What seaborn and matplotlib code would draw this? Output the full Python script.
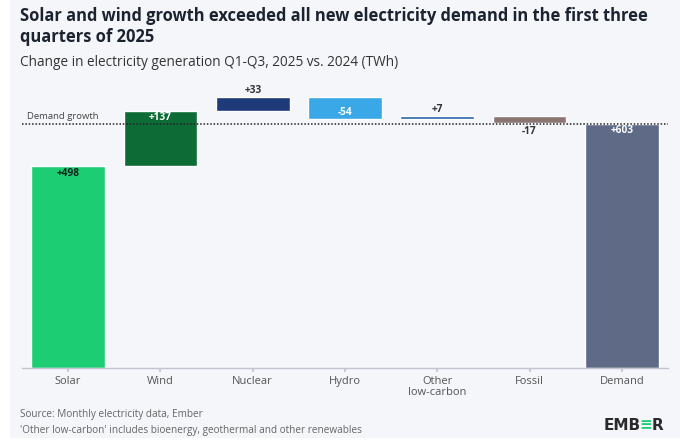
import numpy as np
import pandas as pd
import matplotlib.pyplot as plt
import seaborn as sns
from matplotlib.patches import Rectangle

# Chart data
categories = ["Solar", "Wind", "Nuclear", "Hydro", "Other\nlow-carbon", "Fossil", "Demand"]
changes = [498, 137, 33, -54, 7, -17, 603]
demand_growth = 603
colors = ["#1dcd73", "#0d6b36", "#1f3a78", "#3aa7e6", "#2460a8", "#8a7573", "#5e6a86"]
label_colors = ["#10231a", "white", "#333333", "white", "#333333", "#333333", "white"]

# Waterfall: supply bars stack, demand bar starts at zero
ends = np.cumsum(changes[:-1])
starts = ends - np.array(changes[:-1])
lows = list(np.minimum(starts, ends)) + [0]
highs = list(np.maximum(starts, ends)) + [changes[-1]]

df = pd.DataFrame({"category": categories, "change": changes,
                   "low": lows, "high": highs})
df["height"] = df["high"] - df["low"]

sns.set_theme(style="white")
plt.rcParams["font.family"] = ["Open Sans", "DejaVu Sans"]

bg = "#f5f6fa"
fig = plt.figure(figsize=(6.8, 4.48), dpi=100, facecolor="white")
fig.patches.append(Rectangle((10 / 680, 10 / 448), 1, 1, transform=fig.transFigure,
                             facecolor=bg, edgecolor="none", zorder=-10))

ax = fig.add_axes([22 / 680, 80 / 448, 646 / 680, (368 - 84.5) / 448])
ax.set_facecolor(bg)

sns.barplot(data=df, x="category", y="height", hue="category", palette=colors,
            width=0.8, saturation=1, legend=False, ax=ax)

# shift each bar to its waterfall position
for patch, low in zip(ax.patches, df["low"]):
    patch.set_y(low)

ax.set_ylim(0, 700)
ax.set_xlim(-0.5, len(categories) - 0.5)

# demand growth reference
ax.axhline(demand_growth, color="#222222", lw=1.1, ls=(0, (1, 1.2)), zorder=5)
ax.text(-0.45, demand_growth + 8, "Demand growth", fontsize=6.8, color="#444444",
        va="bottom", ha="left")

# value labels
for i, row in df.iterrows():
    txt = f"{row['change']:+d}"
    going_down = row["change"] < 0 and i < len(df) - 1
    end_val = row["low"] if going_down else row["high"]
    inside = row["height"] >= 40
    if inside:
        y = end_val + 17 if going_down else end_val - 17
    else:
        y = end_val - 20 if going_down else end_val + 17
    ax.text(i, y, txt, ha="center", va="center", fontsize=7.3, fontweight="bold",
            color=label_colors[i], zorder=6)

for s in ["top", "right", "left"]:
    ax.spines[s].set_visible(False)
ax.spines["bottom"].set_color("#c4c6cf")
ax.spines["bottom"].set_linewidth(1)
ax.set_yticks([])
ax.set_xlabel("")
ax.set_ylabel("")
ax.tick_params(axis="x", bottom=True, length=3, color="#c4c6cf", labelsize=8,
               labelcolor="#555555", pad=3)
ax.set_xticks(range(len(categories)))
ax.set_xticklabels(categories, linespacing=0.95)

# titles and notes
fig.text(20 / 680, 1 - 16 / 448, "Solar and wind growth exceeded all new electricity demand in the first three",
         fontsize=11.9, fontweight="bold", color="#1c2330", va="center")
fig.text(20 / 680, 1 - 37 / 448, "quarters of 2025", fontsize=11.9, fontweight="bold",
         color="#1c2330", va="center")
fig.text(20 / 680, 1 - 62 / 448, "Change in electricity generation Q1-Q3, 2025 vs. 2024 (TWh)",
         fontsize=9.8, color="#333333", va="center")
fig.text(20 / 680, 1 - 414 / 448, "Source: Monthly electricity data, Ember",
         fontsize=7.2, color="#666666", va="center")
fig.text(20 / 680, 1 - 430 / 448, "'Other low-carbon' includes bioenergy, geothermal and other renewables",
         fontsize=7.2, color="#666666", va="center")

# logo: place each piece right after the previous one
logo_y = 1 - 425 / 448
renderer = fig.canvas.get_renderer()
x0 = 604
for piece, col, gap in [("EMB", "#2b2b2b", -1.5), ("\u2261", "#1dcd73", -1.0), ("R", "#2b2b2b", 0)]:
    t = fig.text(x0 / 680, logo_y, piece, fontsize=11, fontweight="bold", color=col,
                 va="center", ha="left", family="DejaVu Sans")
    x0 = t.get_window_extent(renderer).x1 + gap

fig.savefig("out.png", dpi=100, facecolor=fig.get_facecolor())
